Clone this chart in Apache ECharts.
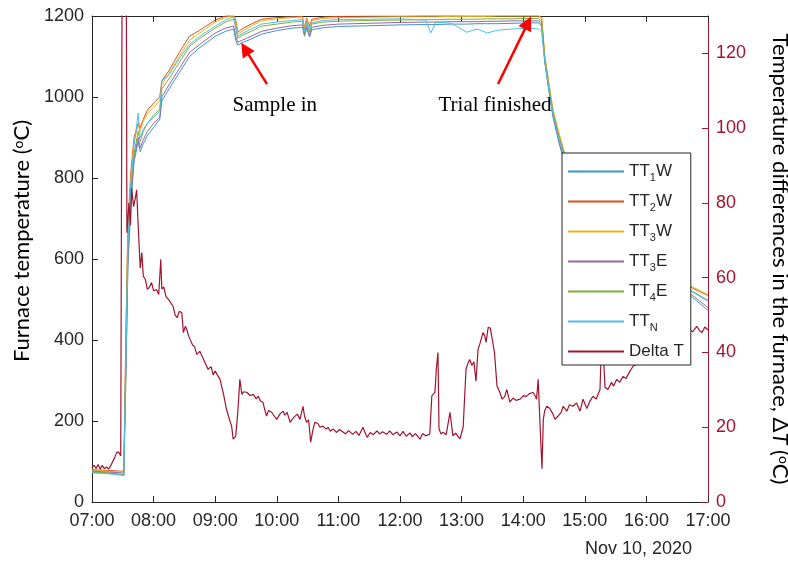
<!DOCTYPE html>
<html>
<head>
<meta charset="utf-8">
<script src="https://cdn.jsdelivr.net/npm/echarts@6/dist/echarts.min.js"></script>
<style>html,body{margin:0;padding:0;background:#fff}#c{width:788px;height:563px}</style>
</head>
<body>
<div id="c"></div>
<script>
// time in minutes since midnight (Nov 10, 2020)
const tempTimes = [420,435,449,451,453,455,458,461,465,467,470,474,480,486,488,495,505,515,525,540,550,558,560,562,566,575,585,600,615,625,627,629,632,634,645,660,690,720,745,750,755,770,785,795,805,815,830,845,855,858,861,865,869,875,880,890,900,915,930,945,960,975,990,1005,1020];
const tt1W = [73,71,68,66,300,580,740,840,890,865,885,905,925,945,990,1020,1060,1100,1122,1150,1162,1168,1140,1128,1134,1143,1155,1164,1170,1172,1150,1170,1148,1166,1171,1174,1176,1178,1179,1179,1179,1180,1180,1181,1181,1181,1182,1183,1183,1175,1085,1015,950,885,840,780,735,680,640,605,575,550,527,505,473];
const tt2W = [80,78,76,78,420,690,820,900,935,925,945,968,985,1000,1040,1065,1110,1150,1165,1190,1200,1203,1190,1160,1168,1180,1192,1196,1198,1199,1170,1195,1175,1192,1197,1199,1200,1200,1201,1201,1201,1201,1202,1202,1202,1202,1202,1202,1202,1195,1100,1030,965,905,860,800,755,700,660,625,597,572,550,528,510];
const tt3W = [78,76,74,76,400,680,800,890,930,915,940,960,975,990,1030,1058,1100,1140,1158,1185,1197,1200,1185,1155,1162,1175,1188,1193,1196,1197,1165,1192,1170,1188,1194,1196,1197,1198,1198,1198,1198,1199,1199,1199,1199,1200,1200,1200,1200,1195,1105,1035,970,910,865,805,760,705,665,630,600,575,553,531,512];
const tt3E = [76,74,72,70,330,600,760,850,900,875,895,915,935,950,1000,1030,1070,1110,1130,1158,1170,1175,1150,1135,1140,1150,1162,1170,1176,1178,1155,1175,1152,1172,1177,1180,1182,1184,1185,1185,1185,1186,1186,1186,1187,1187,1188,1188,1188,1180,1090,1020,955,890,845,785,740,685,645,610,580,555,532,510,480];
const tt4E = [74,72,68,66,380,650,780,860,915,890,915,935,955,970,1020,1045,1085,1125,1145,1170,1185,1192,1170,1145,1152,1162,1175,1180,1185,1187,1158,1183,1160,1180,1185,1187,1189,1190,1191,1191,1191,1192,1192,1192,1193,1193,1193,1194,1194,1185,1095,1025,960,900,855,795,750,695,655,620,590,565,542,520,498];
const ttN = [72,70,66,64,350,640,790,880,960,900,920,935,950,965,1040,1055,1095,1130,1150,1175,1190,1198,1175,1150,1156,1168,1180,1185,1189,1191,1162,1187,1165,1183,1189,1191,1192,1193,1190,1158,1185,1182,1160,1168,1158,1165,1168,1170,1168,1160,1090,1020,958,895,850,790,745,690,650,615,588,562,540,518,496];

const dtTimes = [420,422,424,426,428,430,432,434,436,438,440,442,444,446,448,449.5,450.5,452.5,454,456,457.5,458.6,460.5,462,463.5,465,467,468.5,470,472,474,476,478,480,483,485,487,488,490,492,495,499,501,503,505,507.5,509,511,512.5,514,515.5,518,520,522,525,528,530,533,536,538,540,541.5,544.7,548,551,554,556,557.5,559,560,562,564,566,568,571,574,577,580,582,584,586.5,588,590,592,595,597,600,603,606,608,610,613,616,620,622.6,625.5,627,629,631,633,635,637,640,642,645,648,650,652,655,658,661,664.5,667,670,674,677,680,684,686,688,691,694,697.5,700,703,707,710,713,717,720,723,726,729.7,732,735,739.5,742,745,749,751,754,755.5,757,758,760,762,765,768.7,771.5,774,778.4,781.5,784.3,786,788,790,792,794,796,798,800.8,802.5,803.8,805.9,808,809.6,812,814.5,817,819.5,822,824,827,830,833,837,840,843.5,846,849.7,852,853,854.6,856.5,858.3,859.6,861,863,866,869,871,874,877,879,882.5,885,888.5,892,895.3,898.3,902,905,908,911,914.8,916.7,918,919.7,922.6,926,928,931,934,937.3,940,944,947,955,965,975,985,995,1002.5,1005,1009,1012,1014,1017,1020];
const dtValues = [9.2,9.8,9.0,10.0,8.8,9.8,8.9,9.4,8.8,9.6,10.7,11.8,13.2,13.4,12.3,11.8,250,250,72,80,74,84,79,81,83.5,73.7,62.6,66.7,60.4,59.5,56.9,57.5,58.7,56.5,56.8,55.5,64.9,57,57.5,55,54,52.3,50,49.3,51,50.6,45.3,47,46,44.5,43.5,42,41.5,39.5,40.3,38.5,37.3,35.5,36.2,34,35,35.5,32.8,29,24.8,22,20.3,16.8,16.5,17.6,24,32.8,28.8,29.5,29.3,28.5,28.8,27.6,28.3,27,26.7,25,23,24.5,24,23.2,22.1,23.5,24.3,23.2,24,21.3,22.5,23.5,22.1,25.6,23,21.3,22,16,19,21.3,21,20,20.3,19.5,20,18.9,19.5,18.6,19.4,18.7,18.2,19.1,18.1,18.9,17.8,20,18.5,17.3,18.6,18,19,18.2,18.8,18.1,19,18,18.7,17.7,18.9,17.6,18.5,17.5,18.3,16.8,18.3,17.7,18.2,28.4,29.3,36,40,19.5,18.2,18.7,18,24,17.7,18.4,16.9,20,35.5,37,38.1,36.5,37.5,32.3,40.8,42.5,45.3,44.5,42.7,46.7,46.5,46.2,40,31,29.5,27.5,28.2,30.1,26.7,27.8,27.2,27.5,28.4,28.3,29,29.3,28.2,27.5,32.8,20,8.9,22.1,24.5,25.6,25,23.5,22.1,23,24,25.6,24.3,26,25.6,26.5,24.3,27.5,25,27,28.3,27.5,30.1,46,40,30.7,30.1,32,31,32.8,32,33.6,33,35,36.3,37.5,39.5,41.5,43,44.5,46.1,45.5,47,45.8,45.3,46.8,46];

const xTicks = {min: 420, max: 1020, step: 60};
const leftTicks = {min: 0, max: 1200, step: 200};
const rightTicks = {min: 0, max: 130, step: 20};

const seriesNames = ['TT1W','TT2W','TT3W','TT3E','TT4E','TTN','Delta T'];
const seriesColors = ['#3f94cc','#d95319','#edb120','#9a62a8','#7fae3a','#4dbeee','#a2142f'];
const tempData = [tt1W, tt2W, tt3W, tt3E, tt4E, ttN];

const annotations = [
  {text: 'Sample in', at: [598, 978], tail: [590.5, 1032], tip: [569, 1119]},
  {text: 'Trial finished', at: [812.5, 978], tail: [815.5, 1032], tip: [844.6, 1183]}
];

const pair = (ts, vs) => ts.map((t, i) => [t, vs[i]]);
const fmtTime = v => String(Math.floor(v / 60)).padStart(2, '0') + ':' + String(v % 60).padStart(2, '0');
const axisCol = '#262626';
const dtCol = '#a2142f';
const tickFont = 'Liberation Sans, Arial, sans-serif';
const titleFont = 'Lato, Open Sans, sans-serif';

const series = tempData.map((d, i) => ({
  name: seriesNames[i], type: 'line', data: pair(tempTimes, d), xAxisIndex: 0, yAxisIndex: 0,
  symbol: 'none', showSymbol: false, lineStyle: {width: 1, color: seriesColors[i]}, itemStyle: {color: seriesColors[i]},
  animation: false, silent: true, z: 2
}));
series.push({
  name: 'Delta T', type: 'line', data: pair(dtTimes, dtValues), xAxisIndex: 0, yAxisIndex: 1,
  symbol: 'none', showSymbol: false, lineStyle: {width: 1.2, color: dtCol}, itemStyle: {color: dtCol},
  animation: false, silent: true, z: 3, clip: true
});
// annotation layer (arrows and texts in data coordinates)
series.push({
  name: 'annot', type: 'line', data: [], xAxisIndex: 0, yAxisIndex: 0, animation: false, silent: true,
  itemStyle: {color: '#ff0000'},
  markLine: {
    silent: true, animation: false, symbol: ['none', 'triangle'], symbolSize: 14,
    itemStyle: {color: '#ff0000'},
    lineStyle: {color: '#ff0000', width: 2.5, type: 'solid'}, label: {show: false},
    data: annotations.map(a => [
      {coord: a.tail, symbol: 'none'},
      {coord: a.tip, symbol: 'triangle', symbolSize: 14, itemStyle: {color: '#ff0000'}}
    ])
  },
  markPoint: {
    silent: true, animation: false, symbol: 'circle', symbolSize: 1, itemStyle: {color: 'rgba(0,0,0,0)'},
    label: {show: true, position: 'inside', color: '#000', fontFamily: 'Liberation Serif, Times New Roman, serif', fontSize: 21, formatter: p => p.name},
    data: annotations.map(a => ({name: a.text, coord: a.at}))
  }
});

const chart = echarts.init(document.getElementById('c'), null, {renderer: 'canvas'});
chart.setOption({
  backgroundColor: '#fff',
  animation: false,
  grid: {left: 92, right: 80, top: 16, bottom: 61, containLabel: false, outerBoundsMode: 'none'},
  legend: {
    data: seriesNames, orient: 'vertical', left: 562, top: 153,
    backgroundColor: '#fff', borderColor: axisCol, borderWidth: 1,
    padding: [10, 7, 5, 5], itemWidth: 56, itemHeight: 14, itemGap: 9.5,
    itemStyle: {opacity: 0},
    textStyle: {
      color: axisCol, fontFamily: tickFont, fontSize: 17,
      rich: {
        n: {fontFamily: tickFont, fontSize: 17, color: axisCol, lineHeight: 24, verticalAlign: 'middle'},
        s: {fontFamily: tickFont, fontSize: 11, color: axisCol, lineHeight: 24, verticalAlign: 'bottom'}
      }
    },
    formatter: name => {
      if (name === 'Delta T') return '{n|Delta T}';
      const rest = name.slice(3);
      return '{n|TT}{s|' + name.slice(2, 3) + '}' + (rest ? '{n|' + rest + '}' : '');
    }
  },
  xAxis: [{
    type: 'value', position: 'bottom', min: xTicks.min, max: xTicks.max, interval: xTicks.step,
    axisLine: {onZero: false, lineStyle: {color: axisCol, width: 1}},
    axisTick: {inside: true, length: 6, lineStyle: {color: axisCol}},
    axisLabel: {formatter: fmtTime, color: axisCol, fontFamily: tickFont, fontSize: 18, margin: 10},
    splitLine: {show: false}
  }, {
    type: 'value', position: 'top', min: xTicks.min, max: xTicks.max, interval: xTicks.step,
    axisLine: {onZero: false, lineStyle: {color: axisCol, width: 1}},
    axisTick: {inside: true, length: 6, lineStyle: {color: axisCol}},
    axisLabel: {show: false}, splitLine: {show: false}
  }],
  yAxis: [{
    type: 'value', position: 'left', min: leftTicks.min, max: leftTicks.max, interval: leftTicks.step,
    axisLine: {show: true, onZero: false, lineStyle: {color: axisCol, width: 1}},
    axisTick: {show: true, inside: true, length: 6, lineStyle: {color: axisCol}},
    axisLabel: {color: axisCol, fontFamily: tickFont, fontSize: 18, margin: 8, formatter: v => String(v)},
    splitLine: {show: false},
    name: 'Furnace temperature ({sup|o}C)', nameLocation: 'middle', nameGap: 53,
    nameTextStyle: {color: '#000', fontFamily: titleFont, fontSize: 22, padding: [0, 0, 0, 36],
      rich: {sup: {fontFamily: titleFont, fontSize: 14, verticalAlign: 'top', color: '#000'}}}
  }, {
    type: 'value', position: 'right', min: rightTicks.min, max: rightTicks.max, interval: rightTicks.step,
    axisLine: {show: true, onZero: false, lineStyle: {color: dtCol, width: 1}},
    axisTick: {show: true, inside: true, length: 6, lineStyle: {color: dtCol}},
    axisLabel: {color: dtCol, fontFamily: tickFont, fontSize: 18, margin: 8, showMaxLabel: false},
    splitLine: {show: false},
    name: 'Temperature differences in the furnace, Δ{it|T} ({sup|o}C)', nameLocation: 'middle', nameGap: 61, nameRotate: -90,
    nameTextStyle: {color: '#000', fontFamily: titleFont, fontSize: 22,
      rich: {it: {fontFamily: titleFont, fontSize: 22, fontStyle: 'italic', color: '#000'},
             sup: {fontFamily: titleFont, fontSize: 14, verticalAlign: 'top', color: '#000'}}}
  }],
  graphic: [{
    type: 'text', right: 96, top: 540,
    style: {text: 'Nov 10, 2020', fill: axisCol, font: '18px ' + tickFont}
  }],
  series: series
});
</script>
</body>
</html>
